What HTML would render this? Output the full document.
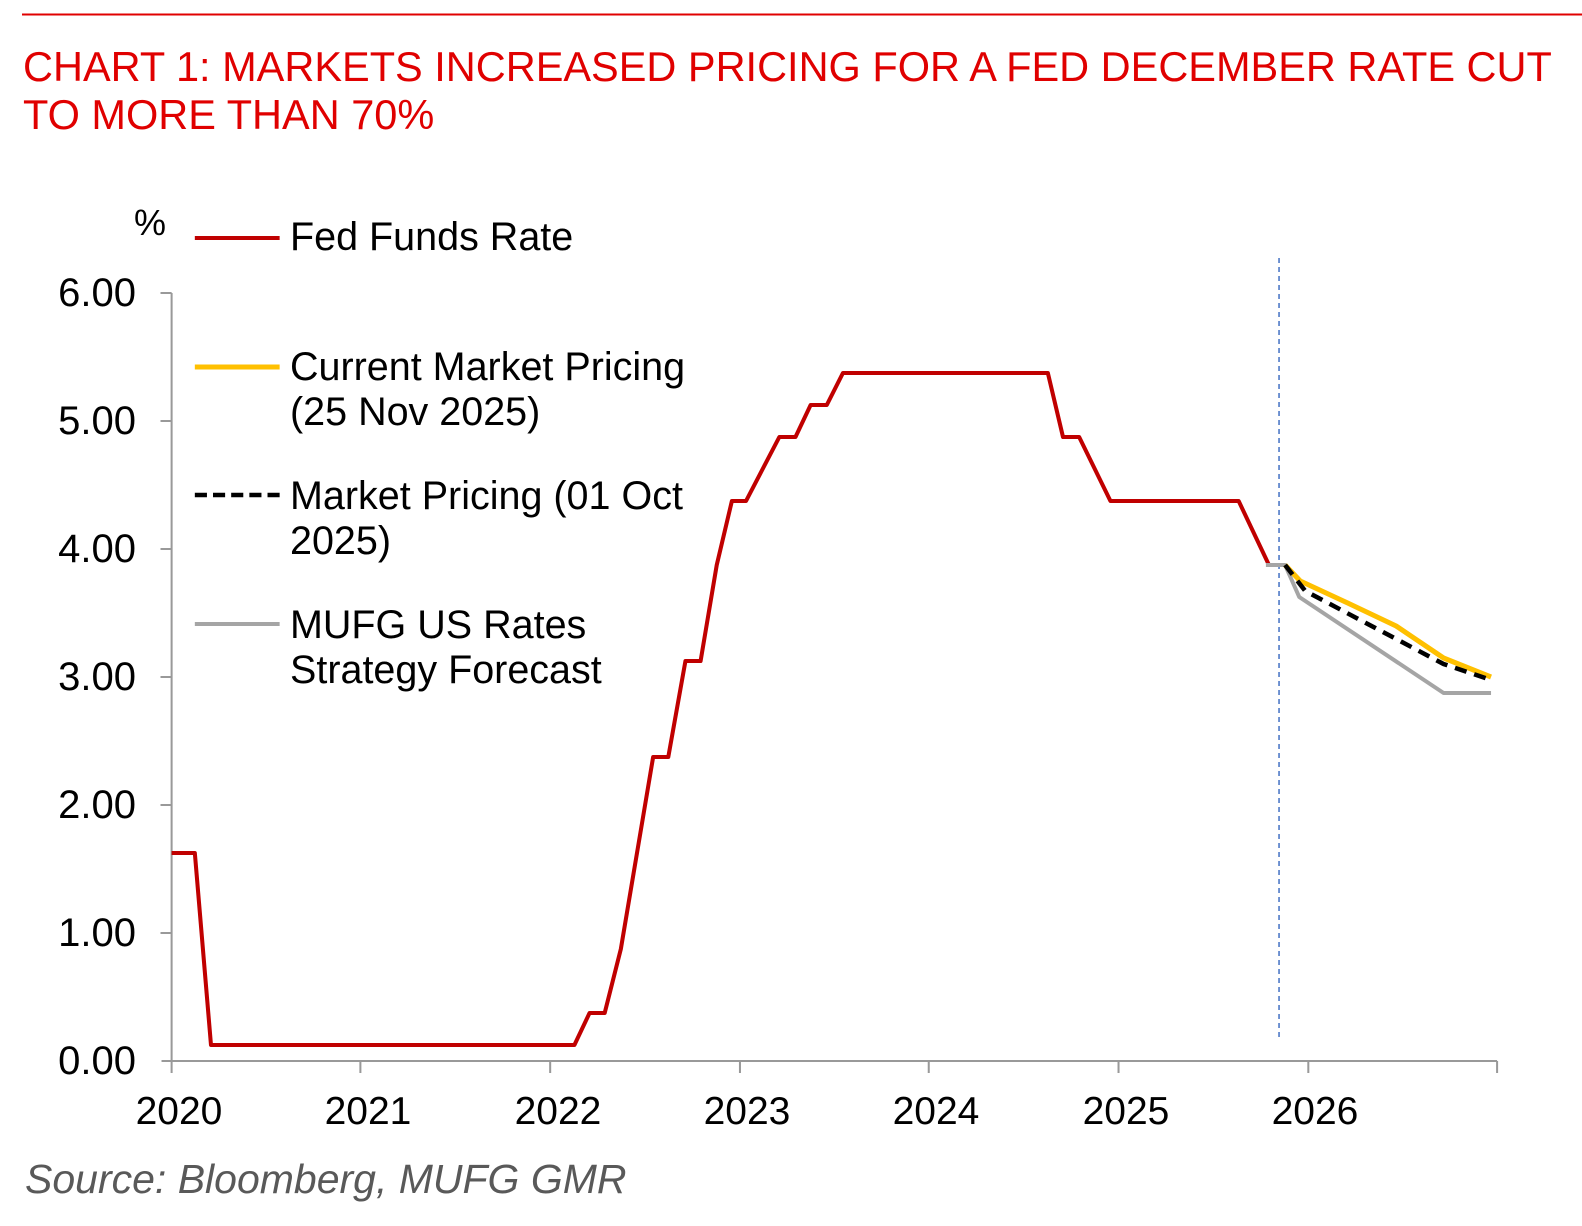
<!DOCTYPE html>
<html><head><meta charset="utf-8"><style>
html,body{margin:0;padding:0;background:#fff;}
svg{display:block;font-family:"Liberation Sans",Arial,sans-serif;}
</style></head><body>
<svg width="1582" height="1226" viewBox="0 0 1582 1226" xmlns="http://www.w3.org/2000/svg">
<line x1="22" y1="14.5" x2="1582" y2="14.5" stroke="#e00000" stroke-width="2"/>
<text x="23" y="81" font-size="41.5" fill="#e00000">CHART 1: MARKETS INCREASED PRICING FOR A FED DECEMBER RATE CUT</text>
<text x="23" y="129" font-size="41.5" fill="#e00000">TO MORE THAN 70%</text>
<text x="134" y="235" font-size="36" fill="#000">%</text>
<g transform="scale(1.0095 1)">
<g stroke="#999" stroke-width="2" fill="none">
<line x1="170" y1="293" x2="170" y2="1061"/>
<line x1="160" y1="1061" x2="1483" y2="1061"/>
<line x1="159" y1="293" x2="170" y2="293"/>
<line x1="159" y1="421" x2="170" y2="421"/>
<line x1="159" y1="549" x2="170" y2="549"/>
<line x1="159" y1="677" x2="170" y2="677"/>
<line x1="159" y1="805" x2="170" y2="805"/>
<line x1="159" y1="933" x2="170" y2="933"/>
<line x1="170" y1="1061" x2="170" y2="1073"/>
<line x1="357" y1="1061" x2="357" y2="1073"/>
<line x1="545" y1="1061" x2="545" y2="1073"/>
<line x1="733" y1="1061" x2="733" y2="1073"/>
<line x1="920" y1="1061" x2="920" y2="1073"/>
<line x1="1108" y1="1061" x2="1108" y2="1073"/>
<line x1="1296" y1="1061" x2="1296" y2="1073"/>
<line x1="1483" y1="1061" x2="1483" y2="1073"/>
</g>
<line x1="1267" y1="258" x2="1267" y2="1040" stroke="#4472c4" stroke-width="1.5" stroke-dasharray="5,4"/>
<polyline fill="none" stroke="#c00000" stroke-width="4" stroke-linejoin="round" points="170,853 193,853 209,1045 569,1045 584,1013 599,1013 615,949 647,757 662,757 679,661 694,661 710,565 725,501 739,501 772,437 788,437 803,405 819,405 835,373 1038,373 1053,437 1069,437 1100,501 1227,501 1257,565"/>
<polyline fill="none" stroke="#a5a5a5" stroke-width="4" stroke-linejoin="round" points="1254,565 1273,565 1287,597 1430,693 1477,693"/>
<polyline fill="none" stroke="#ffc000" stroke-width="5" stroke-linejoin="round" points="1273,565 1288,581 1335,603 1383,626 1430,658 1477,677"/>
<polyline fill="none" stroke="#000" stroke-width="4.5" stroke-dasharray="12,8" points="1273,565 1293,591 1430,664 1477,680"/>
<line x1="193" y1="238" x2="277" y2="238" stroke="#c00000" stroke-width="4"/>
<line x1="193" y1="367" x2="277" y2="367" stroke="#ffc000" stroke-width="5"/>
<line x1="193" y1="495" x2="277" y2="495" stroke="#000" stroke-width="4.5" stroke-dasharray="12,6"/>
<line x1="193" y1="624" x2="277" y2="624" stroke="#a5a5a5" stroke-width="4"/>
</g>
<g font-size="40" fill="#000" text-anchor="end">
<text x="136" y="306">6.00</text>
<text x="136" y="434">5.00</text>
<text x="136" y="562">4.00</text>
<text x="136" y="690">3.00</text>
<text x="136" y="818">2.00</text>
<text x="136" y="946">1.00</text>
<text x="136" y="1074">0.00</text>
</g>
<g font-size="39" fill="#000" text-anchor="middle">
<text x="179" y="1124">2020</text>
<text x="368" y="1124">2021</text>
<text x="558" y="1124">2022</text>
<text x="747" y="1124">2023</text>
<text x="936" y="1124">2024</text>
<text x="1126" y="1124">2025</text>
<text x="1315" y="1124">2026</text>
</g>
<g font-size="39.5" fill="#000">
<text x="290" y="250">Fed Funds Rate</text>
<text x="290" y="380">Current Market Pricing</text>
<text x="290" y="425">(25 Nov 2025)</text>
<text x="290" y="509">Market Pricing (01 Oct</text>
<text x="290" y="554">2025)</text>
<text x="290" y="638">MUFG US Rates</text>
<text x="290" y="683">Strategy Forecast</text>
</g>
<text x="25" y="1193" font-size="41" font-style="italic" fill="#595959">Source: Bloomberg, MUFG GMR</text>
</svg>
</body></html>
